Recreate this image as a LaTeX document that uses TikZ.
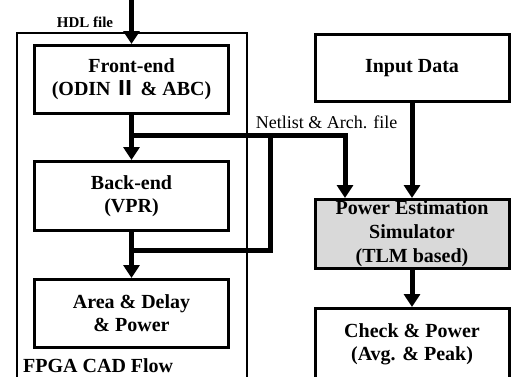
\documentclass[tikz,border=0pt]{standalone}
\usepackage{fontspec}
\setmainfont{Liberation Serif}
\newfontfamily\cjkfont{Noto Sans CJK SC}
\usetikzlibrary{arrows.meta}
\begin{document}
\begin{tikzpicture}[x=1pt,y=-1pt,
 box/.style={draw,line width=3pt,minimum width=194pt,inner sep=0pt,align=center,font=\fontsize{20}{23}\selectfont\bfseries},
 conn/.style={line width=5pt},
 arr/.style={conn,-{Triangle[width=16pt,length=13pt]}},
 lbl/.style={inner sep=0pt,font=\fontsize{20}{23}\selectfont\bfseries},
]
\useasboundingbox (0,0) rectangle (511,376);
% outer frame
\draw[line width=1.5pt] (17,380) -- (17,33) -- (247,33) -- (247,380);
\node[lbl,anchor=base west] (fl) at (23,372) {FPGA CAD Flow};
% boxes
\node[box,minimum height=68pt] (fe) at (131.5,79.5) {Front-end\\(ODIN {\cjkfont Ⅱ} \& ABC)};
\node[box,minimum height=69pt] (be) at (131.5,196) {Back-end\\(VPR)};
\node[box,minimum height=68pt] (ad) at (131.5,313.5) {Area \& Delay\\\& Power};
\node[box,minimum height=67pt] (in) at (412,68) {Input Data};
\node[box,minimum height=69pt,fill=black!15,font=\fontsize{20}{24}\selectfont\bfseries] (pe) at (412,234) {Power Estimation\\Simulator\\(TLM based)};
\node[box,minimum height=71pt] (ck) at (412,344) {Check \& Power\\(Avg. \& Peak)};
% labels
\node[inner sep=0pt,anchor=base,font=\fontsize{15}{15}\selectfont\bfseries] (hl) at (85,27) {HDL file};
\node[inner sep=0pt,anchor=base,font=\fontsize{18}{18}\selectfont] (nl) at (326.5,128) {Netlist \& Arch. file};
% connectors
\coordinate (hdl) at (131.5,0);
\draw[arr] (hdl) -- (fe.north);
\draw[arr] (fe.south) -- (be.north);
\draw[arr] (be.south) -- (ad.north);
\coordinate (j1) at (131.5,135);
\coordinate (n1) at (345,135);
\draw[arr] (j1) -- (n1) -- (n1 |- pe.north);
\coordinate (j2) at (131.5,250);
\coordinate (n2) at (270,250);
\coordinate (n3) at (270,135);
\draw[conn] (j2) -- (n2) -- (n3);
\draw[arr] (in.south) -- (pe.north);
\draw[arr] (pe.south) -- (ck.north);
\end{tikzpicture}
\end{document}
